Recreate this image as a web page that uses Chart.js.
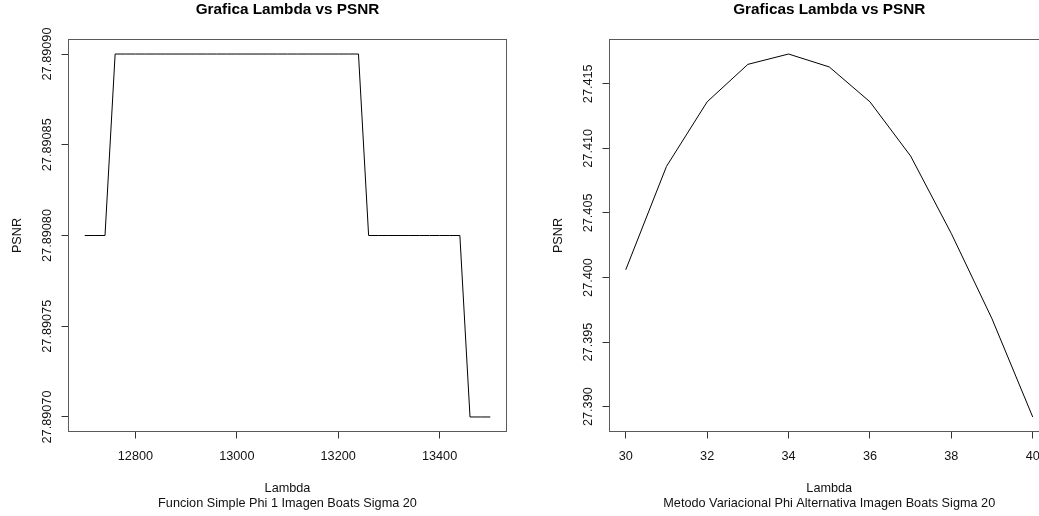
<!DOCTYPE html>
<html>
<head>
<meta charset="utf-8">
<script src="https://cdn.jsdelivr.net/npm/chart.js@4"></script>
<style>
  html, body { margin: 0; padding: 0; background: #fff; overflow: hidden; width: 1039px; height: 516px; }
  canvas { position: absolute; top: 0; }
  #left { left: 0; }
  #right { left: 520px; }
</style>
</head>
<body>
<canvas id="left" width="520" height="516"></canvas>
<canvas id="right" width="541" height="516"></canvas>
<script>
  // left plot: Funcion Simple Phi 1
  const lambdaSimple = [12700, 12720, 12740, 12760, 12780, 12800, 12820, 12840, 12860, 12880,
    12900, 12920, 12940, 12960, 12980, 13000, 13020, 13040, 13060, 13080,
    13100, 13120, 13140, 13160, 13180, 13200, 13220, 13240, 13260, 13280,
    13300, 13320, 13340, 13360, 13380, 13400, 13420, 13440, 13460, 13480, 13500];
  const psnrSimple = [27.8908, 27.8908, 27.8908, 27.8909, 27.8909, 27.8909, 27.8909, 27.8909, 27.8909, 27.8909,
    27.8909, 27.8909, 27.8909, 27.8909, 27.8909, 27.8909, 27.8909, 27.8909, 27.8909, 27.8909,
    27.8909, 27.8909, 27.8909, 27.8909, 27.8909, 27.8909, 27.8909, 27.8909, 27.8908, 27.8908,
    27.8908, 27.8908, 27.8908, 27.8908, 27.8908, 27.8908, 27.8908, 27.8908, 27.8907, 27.8907, 27.8907];
  const xTicksSimple = [12800, 13000, 13200, 13400];
  const yTicksSimple = [27.8907, 27.89075, 27.8908, 27.89085, 27.8909];

  // right plot: Metodo Variacional Phi Alternativa
  const lambdaVar = [30, 31, 32, 33, 34, 35, 36, 37, 38, 39, 40];
  const psnrVar = [27.4006, 27.4086, 27.4136, 27.4165, 27.4173, 27.4163, 27.4136, 27.4094, 27.4034, 27.3968, 27.3892];
  const xTicksVar = [30, 32, 34, 36, 38, 40];
  const yTicksVar = [27.390, 27.395, 27.400, 27.405, 27.410, 27.415];

  Chart.defaults.font.family = "'Liberation Sans', Arial, sans-serif";

  // R extends the axis range by 4% on each side
  function rRange(v) {
    const lo = Math.min(...v), hi = Math.max(...v), pad = (hi - lo) * 0.04;
    return [lo - pad, hi + pad];
  }

  const boxPlugin = {
    id: 'rbox',
    afterDraw(chart) {
      const a = chart.chartArea, ctx = chart.ctx;
      ctx.save();
      ctx.strokeStyle = '#5a5a5a';
      ctx.lineWidth = 1;
      ctx.strokeRect(a.left, a.top, a.right - a.left, a.bottom - a.top);
      ctx.restore();
    }
  };

  function drawPlot(id, p) {
    const [xMin, xMax] = rRange(p.x);
    const [yMin, yMax] = rRange(p.y);
    const tickGrid = { drawOnChartArea: false, tickLength: 7, color: '#333', lineWidth: 1 };
    return new Chart(document.getElementById(id), {
      type: 'line',
      data: {
        datasets: [{
          data: p.x.map((x, i) => ({ x: x, y: p.y[i] })),
          borderColor: '#000',
          borderWidth: 1,
          pointRadius: 0,
          tension: 0,
          fill: false
        }]
      },
      options: {
        responsive: false,
        animation: false,
        events: [],
        layout: { padding: { top: 0, left: 0, bottom: 0, right: p.padRight } },
        plugins: {
          legend: { display: false },
          tooltip: { enabled: false },
          title: {
            display: true, text: p.title, fullSize: false, color: '#000',
            font: { size: 15.3, weight: 'bold' },
            padding: { top: 0.3, bottom: 20.84 }
          }
        },
        scales: {
          x: {
            type: 'linear', min: xMin, max: xMax,
            afterBuildTicks: s => { s.ticks = p.xTicks.map(v => ({ value: v })); },
            afterFit: s => { s.height = 84.5; },
            grid: tickGrid,
            border: { display: false },
            ticks: { autoSkip: false, maxRotation: 0, padding: 10.1, color: '#111', font: { size: 12.7 }, callback: v => String(v) },
            title: { display: true, text: ['Lambda', p.sub], color: '#111', font: { size: 12.7 }, padding: { top: 0, bottom: 4.6 } }
          },
          y: {
            type: 'linear', min: yMin, max: yMax,
            afterBuildTicks: s => { s.ticks = p.yTicks.map(v => ({ value: v })); },
            afterFit: s => { s.width = p.yWidth; },
            grid: tickGrid,
            border: { display: false },
            ticks: {
              autoSkip: false, minRotation: 90, maxRotation: 90, crossAlign: 'center',
              padding: p.yPad, color: '#111', font: { size: 12.7 },
              callback: v => v.toFixed(p.yDec)
            },
            title: { display: true, text: 'PSNR', color: '#111', font: { size: 12.7 }, padding: { top: p.yTitlePad, bottom: 0 } }
          }
        }
      },
      plugins: [boxPlugin]
    });
  }

  drawPlot('left', {
    x: lambdaSimple, y: psnrSimple, xTicks: xTicksSimple, yTicks: yTicksSimple, yDec: 5,
    title: 'Grafica Lambda vs PSNR',
    sub: 'Funcion Simple Phi 1 Imagen Boats Sigma 20',
    yWidth: 68.5, yPad: -12.5, yTitlePad: 9.4, padRight: 13.5
  });

  drawPlot('right', {
    x: lambdaVar, y: psnrVar, xTicks: xTicksVar, yTicks: yTicksVar, yDec: 3,
    title: 'Graficas Lambda vs PSNR',
    sub: 'Metodo Variacional Phi Alternativa Imagen Boats Sigma 20',
    yWidth: 89.5, yPad: -5.4, yTitlePad: 30.9, padRight: 12
  });
</script>
</body>
</html>
